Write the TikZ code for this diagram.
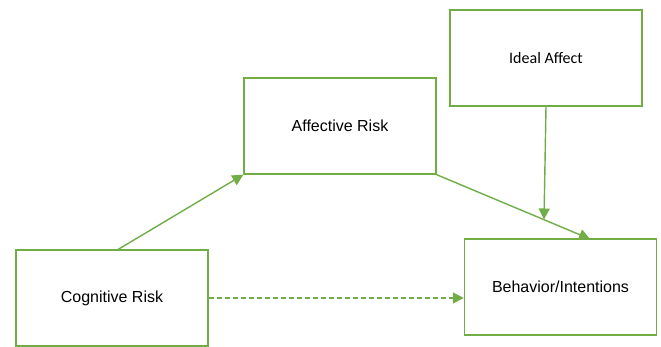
\documentclass[tikz,border=0pt]{standalone}
\usepackage{fontspec}
\setmainfont{Liberation Sans}
\newfontfamily\carlito{Carlito}
\usetikzlibrary{arrows.meta}
\definecolor{gr}{HTML}{70AD47}
\begin{document}
\begin{tikzpicture}[x=1pt,y=-1pt,
  box/.style={draw=gr,line width=1.4pt,minimum width=192pt,minimum height=96pt,inner sep=0pt,font=\fontsize{16}{18}\selectfont},
  conn/.style={draw=gr,line width=1.4pt,-{Triangle[length=11pt,width=11pt]}}]
\useasboundingbox (0,0) rectangle (661,346);
\node[box] (aff) at (340,126) {Affective Risk};
\node[box] (cog) at (112,298) {Cognitive Risk};
\node[box] (beh) at (560.5,287) {Behavior/Intentions};
\node[box,font=\carlito\fontsize{16}{18}\selectfont] (ideal) at (546,58) {Ideal Affect};
\coordinate (t1) at (590,239);
\coordinate (m1) at (544,219.5);
\draw[conn] (cog.north west) ++(103,0) coordinate (c0) -- (aff.south west);
\draw[conn] (aff.south east) -- (t1);
\draw[conn] (ideal.south) -- (m1);
\draw[conn,dashed,dash pattern=on 5pt off 3pt] (cog.east) -- (beh.west |- 0,298) coordinate (b0);
\end{tikzpicture}
\end{document}
